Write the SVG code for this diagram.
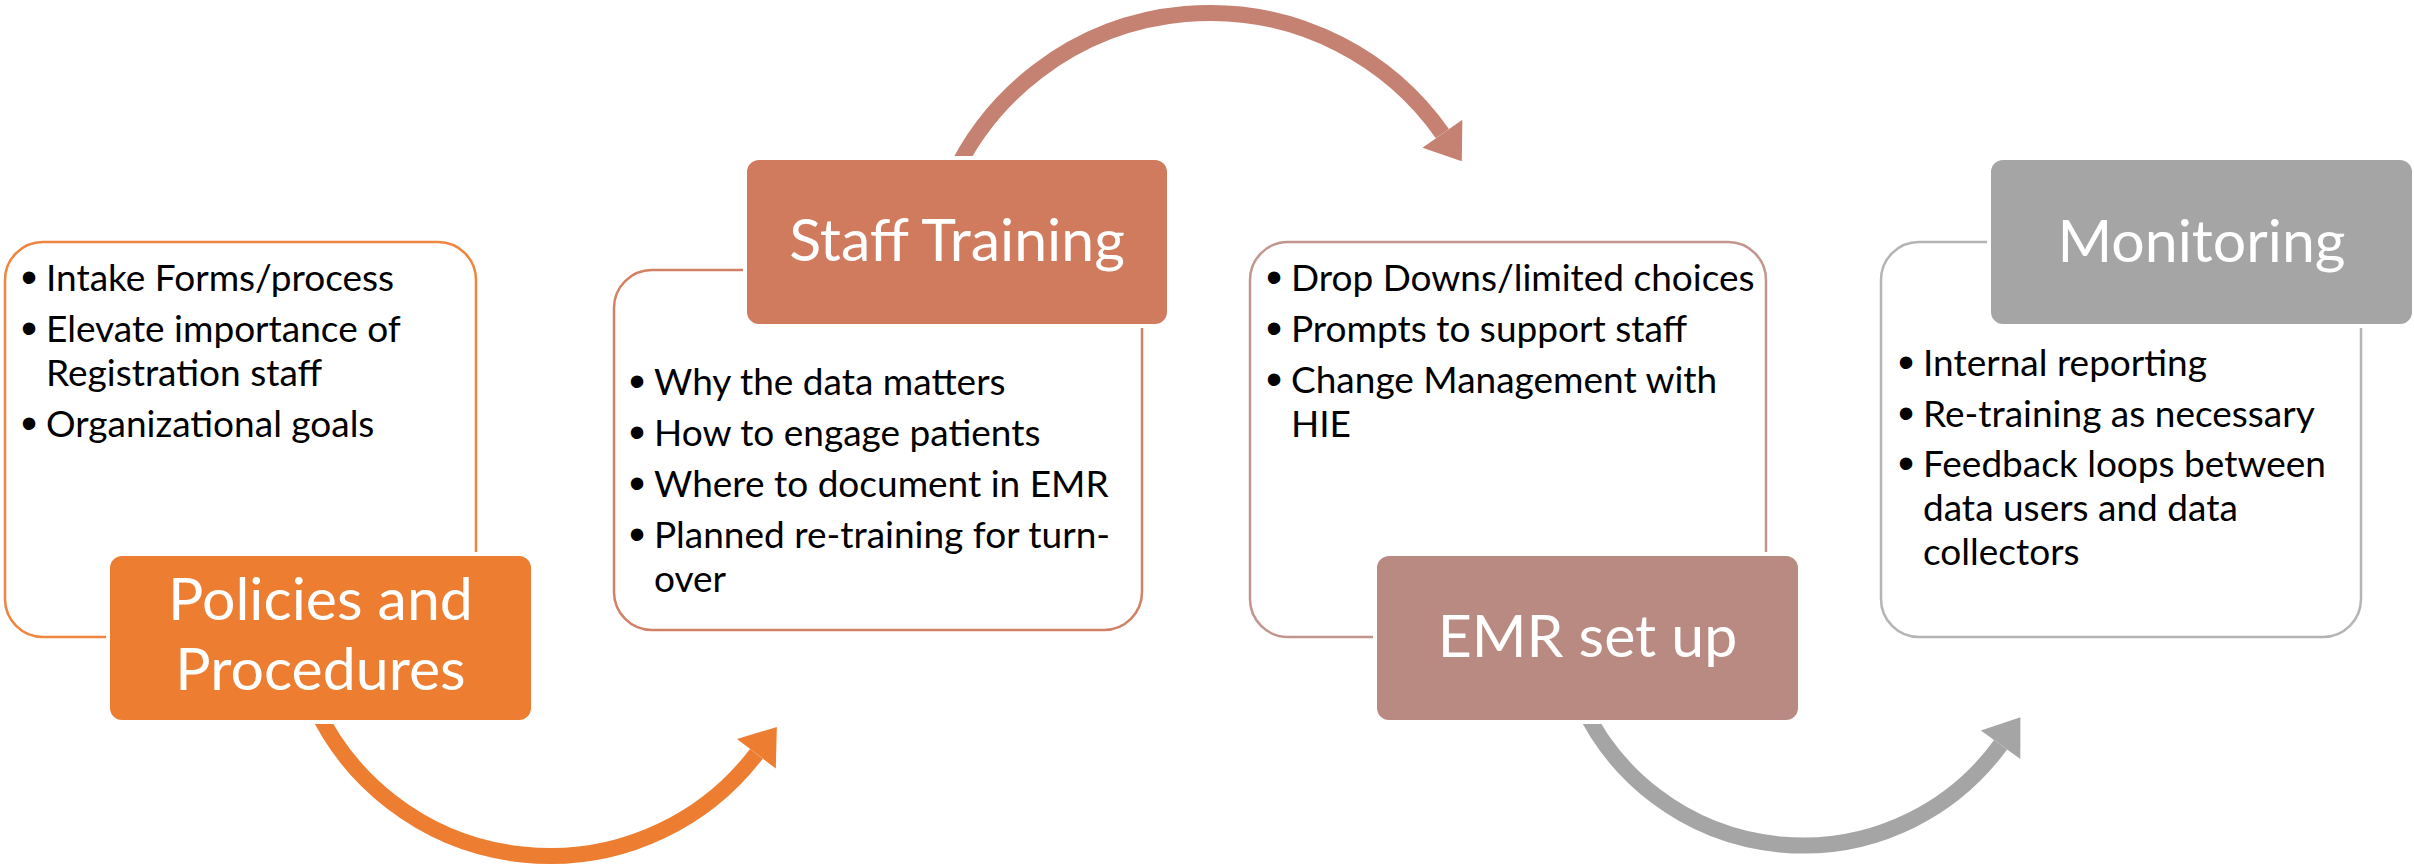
<svg xmlns="http://www.w3.org/2000/svg" width="2414" height="865" viewBox="0 0 2414 865">
<style>
.card{fill:#fff;stroke-width:2.5}
.box{stroke:#fff;stroke-width:4}
.body{font-family:Lato,"Liberation Sans",sans-serif;font-size:37px;fill:#000}
.bul{font-family:"Liberation Sans",Arial,sans-serif;font-size:46px;fill:#000}
.title{font-family:Lato,"Liberation Sans",sans-serif;font-size:59px;fill:#fff;text-anchor:middle}
.arc{fill:none;stroke-width:16;stroke-linecap:butt}
</style>
<defs>
<marker id="hOrange" markerUnits="userSpaceOnUse" orient="auto" markerWidth="40" markerHeight="50" viewBox="0 -20 28 40" refX="0" refY="0"><path d="M0,-19.5 L27,0 L0,19.5 z" fill="#ED7D31"/></marker>
<marker id="hRose" markerUnits="userSpaceOnUse" orient="auto" markerWidth="40" markerHeight="50" viewBox="0 -20 28 40" refX="0" refY="0"><path d="M0,-19.5 L27,0 L0,19.5 z" fill="#C58272"/></marker>
<marker id="hGray" markerUnits="userSpaceOnUse" orient="auto" markerWidth="40" markerHeight="50" viewBox="0 -20 28 40" refX="0" refY="0"><path d="M0,-19.5 L27,0 L0,19.5 z" fill="#A5A5A5"/></marker>
</defs>
<g id="connectors">
<path class="arc" stroke="#ED7D31" d="M314.8,706.2 A259.5,259.5 0 0 0 756.4,753.8" marker-end="url(#hOrange)"/>
<path class="arc" stroke="#C58272" d="M952.6,177 A284,284 0 0 1 1442.4,133.7" marker-end="url(#hRose)"/>
<path class="arc" stroke="#A5A5A5" d="M1581.9,704.7 A244,244 0 0 0 2000.6,744.7" marker-end="url(#hGray)"/>
</g>
<g id="node-policies">
<rect class="card" x="5" y="242" width="471" height="395" rx="38" stroke="#EE8540"/>
<text class="bul" x="21" y="293">•</text>
<text class="body" x="46" y="291">Intake Forms/process</text>
<text class="bul" x="21" y="344">•</text>
<text class="body" x="46" y="342">Elevate importance of</text>
<text class="body" x="46" y="386">Registration staff</text>
<text class="bul" x="21" y="439">•</text>
<text class="body" x="46" y="437">Organizational goals</text>
<rect class="box" x="108" y="554" width="425" height="168" rx="14" fill="#ED7D31"/>
<text class="title" x="320.5" y="620">Policies and</text>
<text class="title" x="320.5" y="690">Procedures</text>
</g>
<g id="node-training">
<rect class="card" x="614" y="270" width="528" height="360" rx="38" stroke="#D38166"/>
<text class="bul" x="629" y="397">•</text>
<text class="body" x="654" y="395">Why the data matters</text>
<text class="bul" x="629" y="448">•</text>
<text class="body" x="654" y="446">How to engage patients</text>
<text class="bul" x="629" y="499">•</text>
<text class="body" x="654" y="497">Where to document in EMR</text>
<text class="bul" x="629" y="550">•</text>
<text class="body" x="654" y="548">Planned re-training for turn-</text>
<text class="body" x="654" y="592">over</text>
<rect class="box" x="745" y="158" width="424" height="168" rx="14" fill="#D07B5E"/>
<text class="title" x="957" y="261">Staff Training</text>
</g>
<g id="node-emr">
<rect class="card" x="1250" y="242" width="516" height="395" rx="38" stroke="#C2968E"/>
<text class="bul" x="1266" y="293">•</text>
<text class="body" x="1291" y="291">Drop Downs/limited choices</text>
<text class="bul" x="1266" y="344">•</text>
<text class="body" x="1291" y="342">Prompts to support staff</text>
<text class="bul" x="1266" y="395">•</text>
<text class="body" x="1291" y="393">Change Management with</text>
<text class="body" x="1291" y="437">HIE</text>
<rect class="box" x="1375" y="554" width="425" height="168" rx="14" fill="#B98A82"/>
<text class="title" x="1587.5" y="657">EMR set up</text>
</g>
<g id="node-monitoring">
<rect class="card" x="1881" y="242" width="480" height="395" rx="38" stroke="#B4B4B4"/>
<text class="bul" x="1898" y="378">•</text>
<text class="body" x="1923" y="376">Internal reporting</text>
<text class="bul" x="1898" y="429">•</text>
<text class="body" x="1923" y="427">Re-training as necessary</text>
<text class="bul" x="1898" y="479">•</text>
<text class="body" x="1923" y="477">Feedback loops between</text>
<text class="body" x="1923" y="521">data users and data</text>
<text class="body" x="1923" y="565">collectors</text>
<rect class="box" x="1989" y="158" width="425" height="168" rx="14" fill="#A5A5A5"/>
<text class="title" x="2201.5" y="262">Monitoring</text>
</g>
</svg>
